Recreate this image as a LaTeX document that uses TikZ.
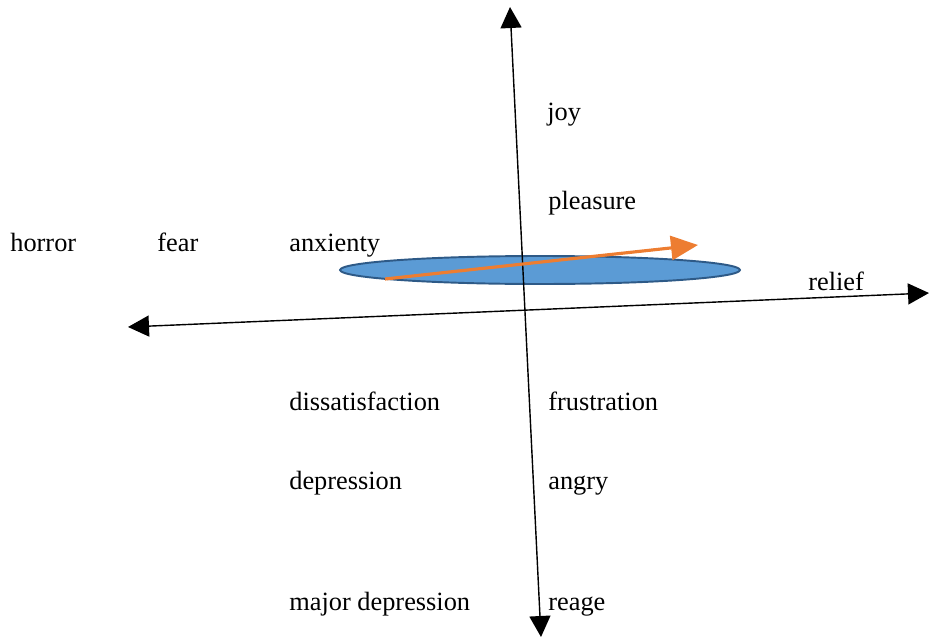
\documentclass[tikz,border=0pt]{standalone}
\usepackage{fontspec}
\setmainfont{Liberation Serif}
\usetikzlibrary{arrows.meta}

\definecolor{blobfill}{HTML}{5B9BD5}
\definecolor{blobline}{HTML}{2E5A87}
\definecolor{shiftarrow}{HTML}{ED7D31}

\tikzset{
    emotion/.style={anchor=base west, inner sep=0pt, font=\fontsize{15}{18}\selectfont},
    axis/.style={line width=0.8pt, {Triangle[length=0.42cm, width=0.42cm]}-{Triangle[length=0.42cm, width=0.42cm]}}
}

\begin{document}
\begin{tikzpicture}[x=0.02cm, y=-0.02cm]
    \useasboundingbox (0,0) rectangle (930,639);

    % Axis end points
    \coordinate (top) at (510,7);
    \coordinate (bottom) at (541,637);
    \coordinate (left) at (128,327);
    \coordinate (right) at (929,293);

    % Blue ellipse behind the axes
    \filldraw[fill=blobfill, draw=blobline, line width=1.1pt] (540,270) ellipse [x radius=4cm, y radius=0.28cm];

    % Axes
    \draw[axis] (top) -- (bottom);
    \draw[axis] (left) -- (right);

    % Orange arrow
    \coordinate (shiftstart) at (385,279);
    \coordinate (shiftend) at (698,245);
    \draw[shiftarrow, line width=1.8pt, -{Triangle[length=0.54cm, width=0.48cm]}] (shiftstart) -- (shiftend);

    % Emotion labels
    \node[emotion] (horror) at (10,251) {horror};
    \node[emotion] (fear) at (157,251) {fear};
    \node[emotion] (anxienty) at (289,251) {anxienty};
    \node[emotion] (joy) at (547,120) {joy};
    \node[emotion] (pleasure) at (548,209) {pleasure};
    \node[emotion] (relief) at (808,290) {relief};
    \node[emotion] (dissatisfaction) at (289,410) {dissatisfaction};
    \node[emotion] (frustration) at (548,410) {frustration};
    \node[emotion] (depression) at (289,489) {depression};
    \node[emotion] (angry) at (548,489) {angry};
    \node[emotion] (majordepression) at (289,610) {major depression};
    \node[emotion] (reage) at (548,610) {reage};
\end{tikzpicture}
\end{document}
